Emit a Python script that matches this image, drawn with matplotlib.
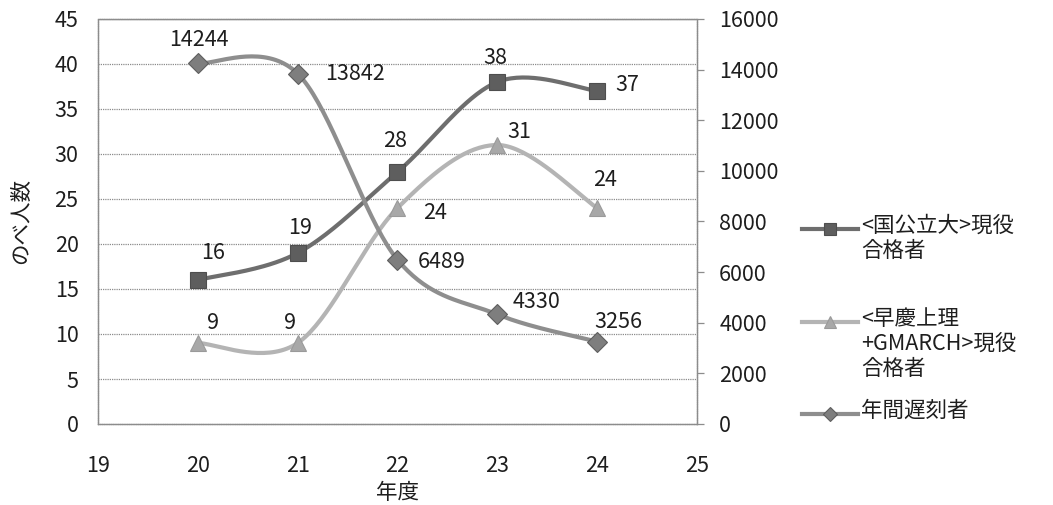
import numpy as np
import matplotlib
matplotlib.use("Agg")
import matplotlib.pyplot as plt

plt.rcParams['font.family'] = ['Noto Sans CJK JP', 'DejaVu Sans']

# --- data -------------------------------------------------------------
years = [20, 21, 22, 23, 24]
national = [16, 19, 28, 38, 37]          # <国公立大>現役合格者 (left axis)
private = [9, 9, 24, 31, 24]             # <早慶上理+GMARCH>現役合格者 (left axis)
late = [14244, 13842, 6489, 4330, 3256]  # 年間遅刻者 (right axis)

left_ticks = [0, 5, 10, 15, 20, 25, 30, 35, 40, 45]
right_ticks = [0, 2000, 4000, 6000, 8000, 10000, 12000, 14000, 16000]
x_ticks = [19, 20, 21, 22, 23, 24, 25]

labels = ['<国公立大>現役\n合格者', '<早慶上理\n+GMARCH>現役\n合格者', '年間遅刻者']


def smooth(xs, ys, n=40):
    """Bezier smoothing through the points (Excel-style smoothed line)."""
    xs = np.asarray(xs, float)
    ys = np.asarray(ys, float)
    px = np.concatenate([[xs[0]], xs, [xs[-1]]])
    py = np.concatenate([[ys[0]], ys, [ys[-1]]])
    ox, oy = [], []
    t = np.linspace(0, 1, n)
    for i in range(1, len(xs)):
        p0 = np.array([px[i], py[i]])
        p3 = np.array([px[i + 1], py[i + 1]])
        c1 = p0 + (np.array([px[i + 1], py[i + 1]]) - np.array([px[i - 1], py[i - 1]])) / 6
        c2 = p3 - (np.array([px[i + 2], py[i + 2]]) - np.array([px[i], py[i]])) / 6
        b = ((1 - t) ** 3)[:, None] * p0 + (3 * (1 - t) ** 2 * t)[:, None] * c1 \
            + (3 * (1 - t) * t ** 2)[:, None] * c2 + (t ** 3)[:, None] * p3
        ox.extend(b[:, 0])
        oy.extend(b[:, 1])
    return np.array(ox), np.array(oy)


W, H = 1053, 505
fig = plt.figure(figsize=(W / 100, H / 100), dpi=100)
ax = fig.add_axes([98 / W, 1 - 424 / H, (697 - 98) / W, (424 - 19) / H])
ax2 = ax.twinx()

grid_col = '#8c8c8c'
txt_col = '#1e1e1e'
c_nat_line, c_nat_mk = '#6e6e6e', '#5e5e5e'
c_pri_line, c_pri_mk = '#b4b4b4', '#a8a8a8'
c_late_line, c_late_mk = '#8e8e8e', '#7e7e7e'
fs = 15.5

ax.set_xlim(19, 25)
ax.set_ylim(0, 45)
ax2.set_ylim(0, 16000)
ax.set_xticks(x_ticks)
ax.set_yticks(left_ticks)
ax2.set_yticks(right_ticks)
for y in left_ticks[1:]:
    ax.axhline(y, color=grid_col, lw=0.9, ls=(0, (1, 0.8)), zorder=0)

for a in (ax, ax2):
    for s in a.spines.values():
        s.set_color(grid_col)
        s.set_linewidth(0.9)
        s.set_linestyle((0, (1, 0.8)))
ax.tick_params(axis='x', length=0, labelsize=fs, pad=22, colors=txt_col)
ax.tick_params(axis='y', length=0, labelsize=fs, pad=14, colors=txt_col)
ax2.tick_params(axis='y', length=5, width=0.9, direction='out',
                labelsize=fs, pad=11, color=grid_col, labelcolor=txt_col)

ax.set_ylabel('のべ人数', fontsize=fs, color=txt_col, labelpad=16)
ax.set_xlabel('年度', fontsize=fs, color=txt_col, labelpad=4)

# series
sx, sy = smooth(years, national)
ax.plot(sx, sy, color=c_nat_line, lw=3, zorder=4, solid_capstyle='round')
ax.plot(years, national, ls='none', marker='s', ms=12, mfc=c_nat_mk, mec='#4e4e4e',
        mew=0.8, zorder=5)

sx, sy = smooth(years, private)
ax.plot(sx, sy, color=c_pri_line, lw=3, zorder=3, solid_capstyle='round')
ax.plot(years, private, ls='none', marker='^', ms=12, mfc=c_pri_mk, mec='#9a9a9a',
        mew=0.8, zorder=5)

sx, sy = smooth(years, late)
ax2.plot(sx, sy, color=c_late_line, lw=3, zorder=3, solid_capstyle='round')
ax2.plot(years, late, ls='none', marker='D', ms=10, mfc=c_late_mk, mec='#5e5e5e',
         mew=0.8, zorder=5)

# data labels (label centre offsets in pixels)
nat_off = [(15, 27), (2, 25), (-2, 31), (-2, 24), (30, 6)]
pri_off = [(15, 20), (-8, 20), (38, -5), (22, 13), (8, 28)]
late_off = [(1, 23), (57, 0), (44, -2), (39, 12), (21, 20)]
for a, vals, offs in ((ax, national, nat_off), (ax, private, pri_off),
                      (ax2, late, late_off)):
    for x, v, o in zip(years, vals, offs):
        a.annotate(str(v), (x, v), xytext=o, textcoords='offset pixels',
                   ha='center', va='center', fontsize=fs, color=txt_col, zorder=6)

# legend, drawn in figure pixel space
lg = fig.add_axes([0, 0, 1, 1], facecolor='none')
lg.set_xlim(0, W)
lg.set_ylim(H, 0)
lg.axis('off')
entries = [
    (229, 's', 9, c_nat_line, c_nat_mk, '#4e4e4e'),
    (322, '^', 9, c_pri_line, c_pri_mk, '#9a9a9a'),
    (414, 'D', 7, c_late_line, c_late_mk, '#5e5e5e'),
]
for (y, m, ms, lc, mc, ec), text in zip(entries, labels):
    lg.plot([802, 858], [y, y], color=lc, lw=3)
    lg.plot([830], [y], ls='none', marker=m, ms=ms, mfc=mc, mec=ec, mew=0.8)
    lg.text(861, y - 14, text, fontsize=fs, va='top', ha='left',
            color=txt_col, linespacing=1.18)

fig.savefig('out.png', dpi=100, facecolor='white')
